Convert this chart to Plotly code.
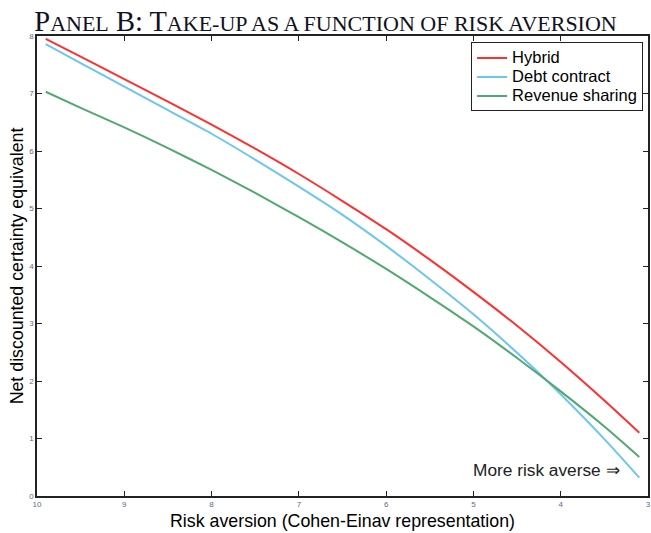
import plotly.graph_objects as go

risk_aversion = [9.9, 9.5, 9.0, 8.5, 8.0, 7.5, 7.0, 6.5, 6.0, 5.5, 5.0, 4.5, 4.0, 3.5, 3.1]
hybrid = [7.95, 7.64, 7.25, 6.86, 6.46, 6.04, 5.60, 5.13, 4.64, 4.11, 3.55, 2.96, 2.33, 1.66, 1.10]
debt_contract = [7.86, 7.53, 7.12, 6.71, 6.30, 5.85, 5.38, 4.89, 4.35, 3.77, 3.16, 2.49, 1.77, 0.99, 0.32]
revenue_sharing = [7.03, 6.75, 6.41, 6.05, 5.67, 5.27, 4.85, 4.41, 3.95, 3.46, 2.95, 2.40, 1.82, 1.21, 0.68]

x_ticks = [10, 9, 8, 7, 6, 5, 4, 3]
y_ticks = [0, 1, 2, 3, 4, 5, 6, 7, 8]

series = [("Hybrid", hybrid, "#ff3030"),
          ("Debt contract", debt_contract, "#6cc6ee"),
          ("Revenue sharing", revenue_sharing, "#52a872")]

fig = go.Figure()
for name, vals, col in series:
    fig.add_trace(go.Scatter(x=risk_aversion, y=vals, mode="lines",
                             name=f"<span style='font-size:16.5px'>{name}</span>",
                             line=dict(color=col, width=2, shape="spline", smoothing=0.8)))

small = "font-size:22px"
title_txt = (f"P<span style='{small}'>ANEL</span> "
             f"B: T<span style='{small}'>AKE-UP AS A FUNCTION OF RISK AVERSION</span>")

SANS = "Liberation Sans, Arial"
fig.update_layout(
    width=651, height=533,
    margin=dict(l=37, r=3, t=36, b=37),
    paper_bgcolor="white", plot_bgcolor="white",
    font=dict(family=SANS, color="black"),
    title=dict(text=title_txt, x=0.5, xanchor="center", y=0.98, yanchor="top",
               font=dict(family="Liberation Serif, Times New Roman", color="#111122", size=28.5)),
    xaxis=dict(range=[10, 3], tickvals=x_ticks, ticks="inside", ticklen=5, tickwidth=1,
               tickcolor="#222", showline=True, linecolor="#222", linewidth=1.5, mirror="ticks",
               showgrid=False, zeroline=False, tickfont=dict(size=8, color="#5a6a8a"),
               automargin=False, ticklabeloverflow="allow",
               title=dict(text="Risk aversion (Cohen-Einav representation)", font=dict(size=17.8), standoff=6)),
    yaxis=dict(range=[0, 8], tickvals=y_ticks, ticks="inside", ticklen=5, tickwidth=1,
               tickcolor="#222", showline=True, linecolor="#222", linewidth=1.5, mirror="ticks",
               showgrid=False, zeroline=False, tickfont=dict(size=8, color="#5a6a8a"),
               automargin=False, ticklabeloverflow="allow",
               title=dict(text="Net discounted certainty equivalent", font=dict(size=17.8), standoff=1)),
    legend=dict(x=0.992, y=0.986, xanchor="right", yanchor="top", bgcolor="white",
                bordercolor="#222", borderwidth=1, font=dict(size=12.3),
                itemwidth=30, tracegroupgap=0),
    showlegend=True,
)

fig.add_annotation(x=4.16, y=0.45, xref="x", yref="y", text="More risk averse ⇒",
                   showarrow=False, font=dict(size=17.3, color="#222"), xanchor="center", yanchor="middle")

fig.write_html("out.html", config={"displayModeBar": False},
               post_script="document.body.style.margin='0';document.body.style.overflow='hidden';")
